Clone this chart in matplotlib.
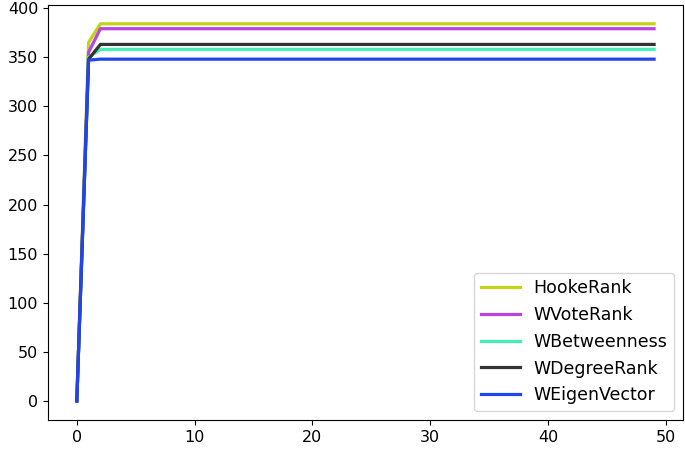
import numpy as np
import matplotlib
matplotlib.use('Agg')
import matplotlib.pyplot as plt

# values (50 iterations, flat after step 2)
x = np.arange(50)
start = {
    'HookeRank': [0, 365, 384],
    'WVoteRank': [0, 355, 379],
    'WBetweenness': [0, 350, 358],
    'WDegreeRank': [0, 348, 363],
    'WEigenVector': [0, 347, 348],
}
colors = ['#c2d414', '#bb44dd', '#44eeb4', '#333333', '#2244ee']

fig = plt.figure(figsize=(6.85, 4.49), dpi=100)
ax = fig.add_axes([0.07, 0.065, 0.927, 0.924])

for (name, vals), c in zip(start.items(), colors):
    y = vals + [vals[-1]] * (len(x) - len(vals))
    ax.plot(x, y, color=c, lw=2.3, label=name)

ax.set_xticks([0, 10, 20, 30, 40, 50])
ax.set_yticks(range(0, 401, 50))
ax.tick_params(labelsize=11.5)
ax.legend(loc='lower right', fontsize=12.5, handlelength=2.2)

fig.savefig('out.png', dpi=100)
